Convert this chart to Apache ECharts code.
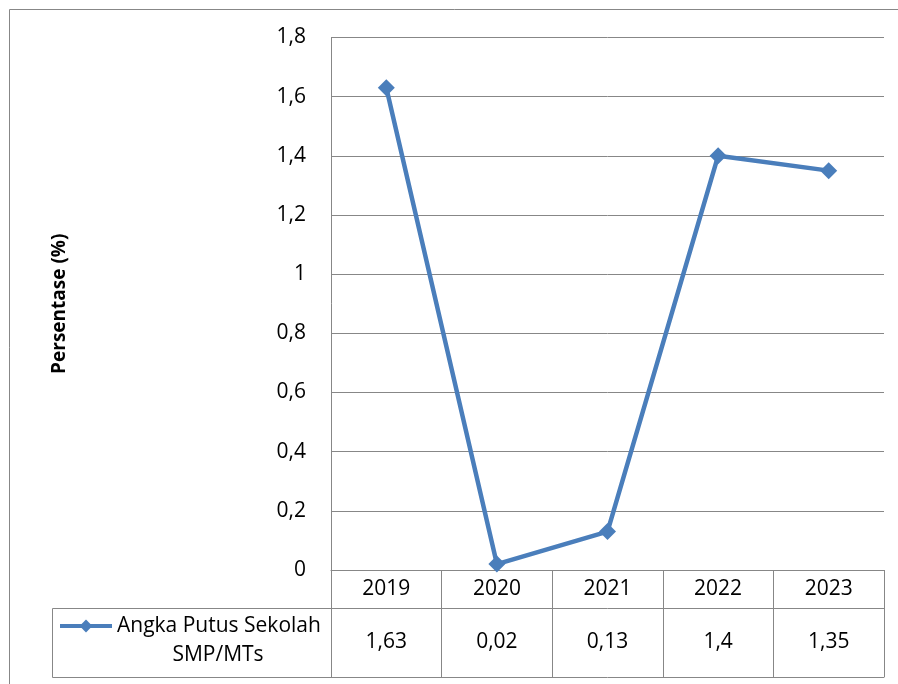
<!DOCTYPE html>
<html>
<head>
<meta charset="utf-8">
<script src="https://cdn.jsdelivr.net/npm/echarts@6/dist/echarts.min.js"></script>
<style>
html,body{margin:0;padding:0;background:#fff;}
#chart{width:898px;height:684px;}
</style>
</head>
<body>
<div id="chart"></div>
<script>
const categories = ['2019', '2020', '2021', '2022', '2023'];
const values = [1.63, 0.02, 0.13, 1.4, 1.35];
const seriesName = 'Angka Putus Sekolah SMP/MTs';
const legendLine1 = 'Angka Putus Sekolah';
const legendLine2 = 'SMP/MTs';
const yTitle = 'Persentase (%)';
const yMin = 0, yMax = 1.8, yStep = 0.2;

const FONT = '"Open Sans", "Noto Sans", sans-serif';
const GRAY = '#878787';
const BLUE = '#4A7EBB';
const fmt = v => String(+(+v).toFixed(2)).replace('.', ',');

const chart = echarts.init(document.getElementById('chart'), null, {renderer: 'canvas'});
chart.setOption({
  backgroundColor: '#fff',
  animation: false,
  textStyle: {fontFamily: FONT},
  grid: {left: 331, right: 14, top: 37.5, bottom: 114, containLabel: false},
  legend: {
    data: [seriesName],
    left: 58, top: 612, padding: 0,
    itemWidth: 52, itemHeight: 16,
    lineStyle: {width: 4, color: BLUE},
    formatter: () => legendLine1,
    textStyle: {fontFamily: FONT, fontSize: 21, color: '#000', lineHeight: 28}
  },
  xAxis: [
    {
      type: 'category', data: categories, position: 'bottom', boundaryGap: true,
      axisLine: {show: true, lineStyle: {color: GRAY, width: 1}},
      axisTick: {show: true, alignWithLabel: false, inside: false, length: 38, lineStyle: {color: GRAY, width: 1}},
      axisLabel: {fontFamily: FONT, fontSize: 21, color: '#000', margin: 7, lineHeight: 24},
      splitLine: {show: false}
    },
    {
      type: 'category', data: values.map(fmt), position: 'bottom', offset: 38, boundaryGap: true,
      axisLine: {show: true, lineStyle: {color: GRAY, width: 1}},
      axisTick: {show: true, alignWithLabel: false, inside: false, length: 69, lineStyle: {color: GRAY, width: 1}},
      axisLabel: {fontFamily: FONT, fontSize: 21, color: '#000', margin: 22, lineHeight: 24},
      splitLine: {show: false}
    },
    {
      type: 'category', data: categories, position: 'bottom', offset: 107, boundaryGap: true,
      axisLine: {show: true, lineStyle: {color: GRAY, width: 1}},
      axisTick: {show: false}, axisLabel: {show: false}, splitLine: {show: false}
    }
  ],
  yAxis: {
    type: 'value', min: yMin, max: yMax, interval: yStep,
    name: yTitle, nameLocation: 'middle', nameGap: 262, nameRotate: 90,
    nameTextStyle: {fontFamily: FONT, fontSize: 19, fontWeight: 'bold', color: '#000'},
    axisLine: {show: true, lineStyle: {color: GRAY, width: 1}},
    axisTick: {show: false},
    axisLabel: {fontFamily: FONT, fontSize: 21, color: '#000', margin: 25, formatter: v => fmt(v)},
    splitLine: {show: true, lineStyle: {color: GRAY, width: 1}}
  },
  series: [{
    name: seriesName, type: 'line', data: values, xAxisIndex: 0,
    symbol: 'diamond', symbolSize: 17, showSymbol: true,
    lineStyle: {color: BLUE, width: 4.5},
    itemStyle: {color: BLUE},
    z: 5
  }],
  graphic: [
    {type: 'rect', silent: true, shape: {x: 9.5, y: 9.5, width: 1000, height: 1000},
     style: {fill: null, stroke: GRAY, lineWidth: 1}},
    {type: 'rect', silent: true, shape: {x: 52.5, y: 608.5, width: 279, height: 69},
     style: {fill: null, stroke: GRAY, lineWidth: 1}},
    {type: 'text', silent: true, x: 218, y: 655,
     style: {text: legendLine2, font: '21px ' + FONT, fill: '#000', align: 'center', verticalAlign: 'middle'}}
  ]
});
</script>
</body>
</html>
